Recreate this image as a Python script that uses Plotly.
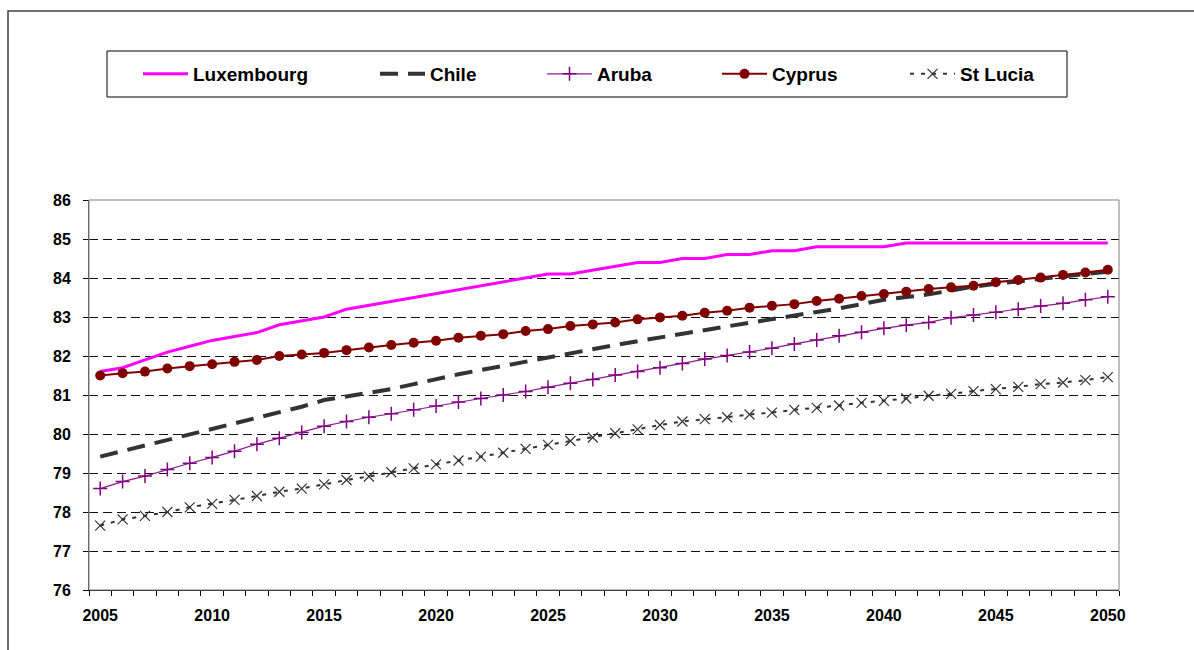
import plotly.graph_objects as go

years = list(range(2005, 2051))

luxembourg = [81.6, 81.7, 81.9, 82.1, 82.25, 82.4, 82.5, 82.6, 82.8, 82.9,
              83.0, 83.2, 83.3, 83.4, 83.5, 83.6, 83.7, 83.8, 83.9, 84.0,
              84.1, 84.1, 84.2, 84.3, 84.4, 84.4, 84.5, 84.5, 84.6, 84.6,
              84.7, 84.7, 84.8, 84.8, 84.8, 84.8, 84.9, 84.9, 84.9, 84.9,
              84.9, 84.9, 84.9, 84.9, 84.9, 84.9]
chile = [79.42, 79.56, 79.7, 79.84, 79.98, 80.12, 80.26, 80.4, 80.54, 80.7,
         80.87, 80.97, 81.06, 81.15, 81.28, 81.41, 81.53, 81.64, 81.75, 81.86,
         81.96, 82.07, 82.17, 82.28, 82.38, 82.48, 82.58, 82.67, 82.76, 82.85,
         82.95, 83.04, 83.13, 83.22, 83.33, 83.44, 83.51, 83.58, 83.68, 83.78,
         83.85, 83.92, 83.98, 84.04, 84.1, 84.16]
aruba = [78.6, 78.78, 78.92, 79.09, 79.25, 79.4, 79.56, 79.74, 79.89, 80.04,
         80.2, 80.32, 80.43, 80.52, 80.62, 80.72, 80.82, 80.91, 81.0, 81.09,
         81.2, 81.3, 81.4, 81.51, 81.6, 81.7, 81.81, 81.92, 82.01, 82.1,
         82.2, 82.31, 82.41, 82.52, 82.61, 82.71, 82.79, 82.86, 82.98, 83.05,
         83.12, 83.2, 83.28, 83.35, 83.44, 83.52]
cyprus = [81.5, 81.56, 81.6, 81.68, 81.74, 81.79, 81.85, 81.9, 82.0, 82.04,
          82.08, 82.15, 82.22, 82.28, 82.34, 82.39, 82.47, 82.52, 82.56, 82.64,
          82.69, 82.77, 82.81, 82.86, 82.94, 82.99, 83.03, 83.11, 83.16, 83.24,
          83.29, 83.33, 83.41, 83.47, 83.54, 83.59, 83.65, 83.72, 83.76, 83.8,
          83.89, 83.95, 84.01, 84.08, 84.14, 84.21]
st_lucia = [77.65, 77.81, 77.9, 78.0, 78.12, 78.21, 78.31, 78.41, 78.52, 78.6,
            78.71, 78.82, 78.91, 79.02, 79.12, 79.22, 79.32, 79.42, 79.52, 79.62,
            79.72, 79.82, 79.91, 80.02, 80.12, 80.23, 80.32, 80.38, 80.43, 80.5,
            80.55, 80.62, 80.67, 80.73, 80.8, 80.85, 80.91, 80.98, 81.03, 81.1,
            81.15, 81.21, 81.28, 81.32, 81.38, 81.46]

x_tick_labels = [str(y) for y in range(2005, 2051, 5)]
y_ticks = list(range(76, 87))

FONT = "Liberation Sans, Arial, sans-serif"
W, H = 1194, 650
L, R, T, B = 89, 1119, 200, 590
IW = 45

fig = go.Figure()
fig.add_trace(go.Scatter(x=years, y=luxembourg, name="Luxembourg", mode="lines",
                         line=dict(color="#FF00FF", width=3), legend="legend"))
fig.add_trace(go.Scatter(x=years, y=chile, name="Chile", mode="lines",
                         line=dict(color="#333333", width=4, dash="18px,10px"), legend="legend2"))
fig.add_trace(go.Scatter(x=years, y=aruba, name="Aruba", mode="lines+markers",
                         line=dict(color="#8B1A8B", width=1.2),
                         marker=dict(symbol="cross-thin", size=10, line=dict(color="#800080", width=1.5)),
                         legend="legend3"))
fig.add_trace(go.Scatter(x=years, y=cyprus, name="Cyprus", mode="lines+markers",
                         line=dict(color="#800000", width=2),
                         marker=dict(symbol="circle", size=10, color="#800000"),
                         legend="legend4"))
fig.add_trace(go.Scatter(x=years, y=st_lucia, name="St Lucia", mode="lines+markers",
                         line=dict(color="#333333", width=2, dash="4px,7px"),
                         marker=dict(symbol="x-thin", size=10, line=dict(color="#333333", width=1.2)),
                         legend="legend5"))

def leg(text_x):
    return dict(xref="container", yref="container", x=(text_x - IW - 10) / W, y=1 - 74 / H,
                xanchor="left", yanchor="middle", orientation="h",
                bgcolor="rgba(0,0,0,0)", borderwidth=0, itemwidth=IW,
                font=dict(family=FONT, size=19, color="black", weight="bold"))

def px_x(p):
    return (p - L) / (R - L)

def px_y(p):
    return (B - p) / (B - T)

fig.update_layout(
    width=W, height=H,
    margin=dict(l=L, r=W - R, t=T, b=H - B),
    paper_bgcolor="white", plot_bgcolor="white",
    showlegend=True,
    legend=leg(193), legend2=leg(430), legend3=leg(597), legend4=leg(772), legend5=leg(960),
    xaxis=dict(range=[2004.5, 2050.5], tickvals=list(range(2005, 2051, 5)), ticktext=x_tick_labels,
               ticks="", showgrid=False, zeroline=False,
               showline=True, linecolor="black", linewidth=1,
               ticklabelstandoff=11,
               tickfont=dict(family=FONT, size=16, color="black", weight="bold"),
               minor=dict(ticks="outside", tick0=2004.5, dtick=1, ticklen=5,
                          tickcolor="black", tickwidth=1, showgrid=False)),
    yaxis=dict(range=[76, 86], tickvals=y_ticks, ticks="outside", ticklen=5, tickcolor="black",
               showgrid=True, gridcolor="#111111", gridwidth=1, griddash="9px,5px",
               zeroline=False, showline=True, linecolor="#555555", linewidth=1,
               ticklabelstandoff=9,
               tickfont=dict(family=FONT, size=16, color="black", weight="bold")),
    shapes=[
        dict(type="rect", xref="paper", yref="paper", x0=0, x1=1, y0=0, y1=1,
             line=dict(color="#808080", width=1), layer="above"),
        dict(type="rect", xref="paper", yref="paper",
             x0=px_x(107), x1=px_x(1067), y0=px_y(97), y1=px_y(51),
             line=dict(color="black", width=1), fillcolor="rgba(0,0,0,0)", layer="above"),
        dict(type="rect", xref="paper", yref="paper",
             x0=px_x(8), x1=px_x(1210), y0=px_y(670), y1=px_y(11),
             line=dict(color="#404040", width=1.5), fillcolor="rgba(0,0,0,0)", layer="above"),
    ],
)

fig.write_html("out.html")
